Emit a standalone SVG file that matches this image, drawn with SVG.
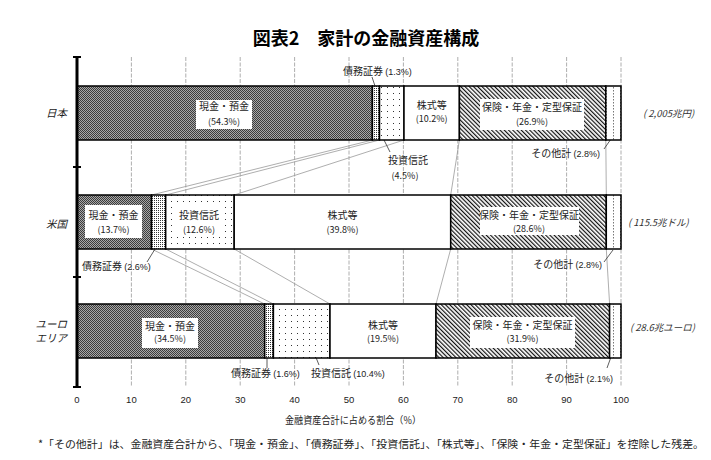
<svg xmlns="http://www.w3.org/2000/svg" width="711" height="460" viewBox="0 0 711 460">
<style>
  text { font-family: "Noto Sans CJK JP", "Liberation Sans", sans-serif; fill: #222; }
  .lbl { font-size: 10px; text-anchor: middle; }
  .pct { font-size: 9px; text-anchor: middle; }
  .side { font-size: 10px; }
  .sp { font-size: 9px; font-family: "Liberation Sans", sans-serif; }
  .tot { font-size: 9.5px; font-style: italic; fill: #333; }
  .cty { font-size: 10.5px; font-style: italic; text-anchor: end; }
  .tick { font-size: 9.5px; text-anchor: middle; font-family: "Liberation Sans", sans-serif; }
  .grid { stroke: #999; stroke-width: 0.8; stroke-dasharray: 4 1.5; }
  .seg { stroke: #000; stroke-width: 1.5; }
  .box { fill: #fff; }
  .series { stroke: #999; stroke-width: 0.8; fill: none; }
  .leader { stroke: #333; stroke-width: 0.8; fill: none; }
</style>
<defs>
  <pattern id="p-cash" width="2" height="2" patternUnits="userSpaceOnUse">
    <rect width="2" height="2" fill="#a8a8a8"/>
    <rect width="1" height="1" fill="#3c3c3c"/>
    <rect x="1" y="1" width="1" height="1" fill="#3c3c3c"/>
  </pattern>
  <pattern id="p-bond" width="2" height="2" patternUnits="userSpaceOnUse">
    <rect width="2" height="2" fill="#fff"/>
    <rect width="1" height="1" fill="#333"/>
  </pattern>
  <pattern id="p-inv" width="6" height="6" patternUnits="userSpaceOnUse">
    <rect width="6" height="6" fill="#fff"/>
    <rect x="3" y="3" width="1" height="1" fill="#333"/>
  </pattern>
  <pattern id="p-ins" width="3" height="3" patternUnits="userSpaceOnUse" patternTransform="rotate(-45)">
    <rect width="3" height="3" fill="#fff"/>
    <line x1="0.6" y1="0" x2="0.6" y2="3" stroke="#111" stroke-width="1.2"/>
  </pattern>
  <pattern id="p-oth" width="7" height="3" patternUnits="userSpaceOnUse">
    <rect width="7" height="3" fill="#fff"/>
    <rect x="4" y="0" width="0.8" height="1.5" fill="#555"/>
  </pattern>
</defs>

<rect width="711" height="460" fill="#fff"/>

<text x="366" y="45" style="font-size:18px;font-weight:bold;text-anchor:middle;fill:#000">図表2　家計の金融資産構成</text>

<g id="grid">
  <line class="grid" x1="131.4" y1="57" x2="131.4" y2="387"/>
  <line class="grid" x1="185.8" y1="57" x2="185.8" y2="387"/>
  <line class="grid" x1="240.2" y1="57" x2="240.2" y2="387"/>
  <line class="grid" x1="294.6" y1="57" x2="294.6" y2="387"/>
  <line class="grid" x1="349" y1="57" x2="349" y2="387"/>
  <line class="grid" x1="403.4" y1="57" x2="403.4" y2="387"/>
  <line class="grid" x1="457.8" y1="57" x2="457.8" y2="387"/>
  <line class="grid" x1="512.2" y1="57" x2="512.2" y2="387"/>
  <line class="grid" x1="566.6" y1="57" x2="566.6" y2="387"/>
  <line class="grid" x1="621" y1="57" x2="621" y2="387"/>
</g>

<g id="connectors">
  <line class="series" x1="372.4" y1="140" x2="151.5" y2="195"/>
  <line class="series" x1="379.5" y1="140" x2="165.7" y2="195"/>
  <line class="series" x1="404" y1="140" x2="234.2" y2="195"/>
  <line class="series" x1="459.4" y1="140" x2="450.7" y2="195"/>
  <line class="series" x1="605.8" y1="140" x2="606.3" y2="195"/>
  <line class="series" x1="151.5" y1="249" x2="264.7" y2="304"/>
  <line class="series" x1="165.7" y1="249" x2="273.4" y2="304"/>
  <line class="series" x1="234.2" y1="249" x2="330" y2="304"/>
  <line class="series" x1="450.7" y1="249" x2="436" y2="304"/>
  <line class="series" x1="606.3" y1="249" x2="609.6" y2="304"/>
  <line class="leader" x1="372" y1="77" x2="375" y2="86"/>
  <line class="leader" x1="383" y1="138" x2="390" y2="152"/>
  <line class="leader" x1="604" y1="149" x2="611" y2="139"/>
  <line class="leader" x1="147" y1="262" x2="160" y2="241"/>
  <line class="leader" x1="604" y1="262" x2="613" y2="250"/>
  <line class="leader" x1="267" y1="356" x2="267" y2="368"/>
  <line class="leader" x1="313" y1="350" x2="319" y2="365"/>
  <line class="leader" x1="607" y1="368" x2="611" y2="357"/>
</g>

<g id="bar-japan">
  <rect class="seg" x="77" y="86" width="295.4" height="54" fill="url(#p-cash)"/>
  <rect class="seg" x="372.4" y="86" width="7.1" height="54" fill="url(#p-bond)"/>
  <rect class="seg" x="379.5" y="86" width="24.5" height="54" fill="url(#p-inv)"/>
  <rect class="seg" x="404" y="86" width="55.4" height="54" fill="#fff"/>
  <rect class="seg" x="459.4" y="86" width="146.4" height="54" fill="url(#p-ins)"/>
  <rect class="seg" x="605.8" y="86" width="15.2" height="54" fill="url(#p-oth)"/>
  <rect class="box" x="196" y="100" width="56" height="29"/>
  <text class="lbl" x="224" y="110">現金・預金</text>
  <text class="pct" x="224" y="125">(54.3%)</text>
  <text class="lbl" x="431.7" y="109">株式等</text>
  <text class="pct" x="431.7" y="121.5">(10.2%)</text>
  <rect class="box" x="480" y="99" width="104" height="31"/>
  <text class="lbl" x="532" y="110.5">保険・年金・定型保証</text>
  <text class="pct" x="532" y="124.5">(26.9%)</text>
  <text class="side" x="343" y="74.5">債務証券 <tspan class="sp">(1.3%)</tspan></text>
  <text class="lbl" x="408" y="163.5">投資信託</text>
  <text class="pct" x="405" y="178.5">(4.5%)</text>
  <text class="side" x="600" y="156.5" text-anchor="end">その他計 <tspan class="sp">(2.8%)</tspan></text>
  <text class="tot" x="643" y="116.5">( 2,005兆円)</text>
  <text class="cty" x="67" y="117">日本</text>
</g>

<g id="bar-us">
  <rect class="seg" x="77" y="195" width="74.5" height="54" fill="url(#p-cash)"/>
  <rect class="seg" x="151.5" y="195" width="14.2" height="54" fill="url(#p-bond)"/>
  <rect class="seg" x="165.7" y="195" width="68.5" height="54" fill="url(#p-inv)"/>
  <rect class="seg" x="234.2" y="195" width="216.5" height="54" fill="#fff"/>
  <rect class="seg" x="450.7" y="195" width="155.6" height="54" fill="url(#p-ins)"/>
  <rect class="seg" x="606.3" y="195" width="14.7" height="54" fill="url(#p-oth)"/>
  <rect class="box" x="85" y="205" width="57" height="33"/>
  <text class="lbl" x="113.5" y="218.5">現金・預金</text>
  <text class="pct" x="113.5" y="232.5">(13.7%)</text>
  <rect class="box" x="174" y="207" width="50" height="29"/>
  <text class="lbl" x="199" y="218.5">投資信託</text>
  <text class="pct" x="199" y="232.5">(12.6%)</text>
  <text class="lbl" x="342.5" y="218.5">株式等</text>
  <text class="pct" x="342.5" y="232.5">(39.8%)</text>
  <rect class="box" x="480" y="207" width="99" height="28"/>
  <text class="lbl" x="529" y="218.5">保険・年金・定型保証</text>
  <text class="pct" x="529" y="231.5">(28.6%)</text>
  <text class="side" x="82" y="269.5">債務証券 <tspan class="sp">(2.6%)</tspan></text>
  <text class="side" x="602" y="267.5" text-anchor="end">その他計 <tspan class="sp">(2.8%)</tspan></text>
  <text class="tot" x="628" y="225.5">( 115.5兆ドル)</text>
  <text class="cty" x="67" y="227.5">米国</text>
</g>

<g id="bar-euro">
  <rect class="seg" x="77" y="304" width="187.7" height="54" fill="url(#p-cash)"/>
  <rect class="seg" x="264.7" y="304" width="8.7" height="54" fill="url(#p-bond)"/>
  <rect class="seg" x="273.4" y="304" width="56.6" height="54" fill="url(#p-inv)"/>
  <rect class="seg" x="330" y="304" width="106" height="54" fill="#fff"/>
  <rect class="seg" x="436" y="304" width="173.6" height="54" fill="url(#p-ins)"/>
  <rect class="seg" x="609.6" y="304" width="11.4" height="54" fill="url(#p-oth)"/>
  <rect class="box" x="142" y="318" width="56" height="30"/>
  <text class="lbl" x="170" y="329.5">現金・預金</text>
  <text class="pct" x="170" y="341.5">(34.5%)</text>
  <text class="lbl" x="383" y="329">株式等</text>
  <text class="pct" x="383" y="341.5">(19.5%)</text>
  <rect class="box" x="470" y="317" width="105" height="31"/>
  <text class="lbl" x="522.5" y="328.5">保険・年金・定型保証</text>
  <text class="pct" x="522.5" y="341.5">(31.9%)</text>
  <text class="side" x="231" y="376.5">債務証券 <tspan class="sp">(1.6%)</tspan></text>
  <text class="side" x="311" y="376.5">投資信託 <tspan class="sp">(10.4%)</tspan></text>
  <text class="side" x="613" y="381.5" text-anchor="end">その他計 <tspan class="sp">(2.1%)</tspan></text>
  <text class="tot" x="630" y="330.5">( 28.6兆ユーロ)</text>
  <text class="cty" x="67" y="328">ユーロ</text>
  <text class="cty" x="67" y="342">エリア</text>
</g>

<g id="axis">
  <line x1="77" y1="56" x2="77" y2="388" stroke="#000" stroke-width="3"/>
  <line x1="73" y1="57" x2="81" y2="57" stroke="#000" stroke-width="2"/>
  <line x1="73" y1="167" x2="81" y2="167" stroke="#000" stroke-width="2"/>
  <line x1="73" y1="277" x2="81" y2="277" stroke="#000" stroke-width="2"/>
  <line x1="73" y1="387" x2="81" y2="387" stroke="#000" stroke-width="2"/>
  <text class="tick" x="77" y="403">0</text>
  <text class="tick" x="131.4" y="403">10</text>
  <text class="tick" x="185.8" y="403">20</text>
  <text class="tick" x="240.2" y="403">30</text>
  <text class="tick" x="294.6" y="403">40</text>
  <text class="tick" x="349" y="403">50</text>
  <text class="tick" x="403.4" y="403">60</text>
  <text class="tick" x="457.8" y="403">70</text>
  <text class="tick" x="512.2" y="403">80</text>
  <text class="tick" x="566.6" y="403">90</text>
  <text class="tick" x="621" y="403">100</text>
  <text x="285" y="424" style="font-size:10px" textLength="136" lengthAdjust="spacingAndGlyphs">金融資産合計に占める割合（%）</text>
</g>

<text x="38" y="448" style="font-size:10.5px" textLength="666" lengthAdjust="spacingAndGlyphs">*「その他計」は、金融資産合計から、「現金・預金」、「債務証券」、「投資信託」、「株式等」、「保険・年金・定型保証」を控除した残差。</text>
</svg>
